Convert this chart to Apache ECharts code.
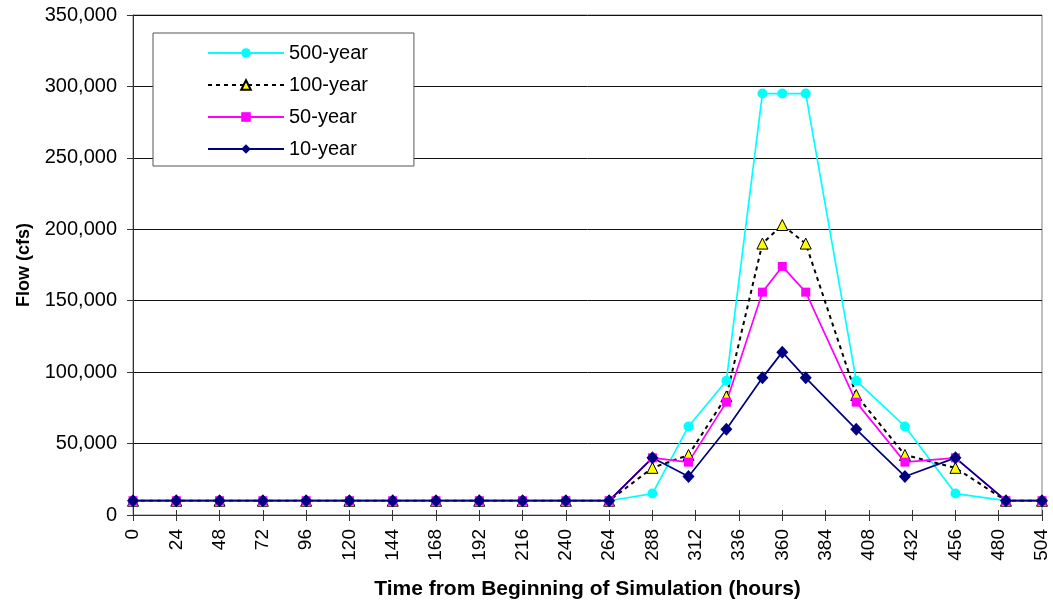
<!DOCTYPE html>
<html>
<head>
<meta charset="utf-8">
<script src="https://cdn.jsdelivr.net/npm/echarts@6/dist/echarts.min.js"></script>
<style>
html,body{margin:0;padding:0;background:#fff;}
#chart{width:1053px;height:605px;}
</style>
</head>
<body>
<div id="chart"></div>
<script>
// Time (hours) of each simulated point
const hours = [0, 24, 48, 72, 96, 120, 144, 168, 192, 216, 240, 264, 288, 308, 329, 349, 360, 373, 401, 428, 456, 484, 504];
// Flow (cfs)
const flow500 = [10000, 10000, 10000, 10000, 10000, 10000, 10000, 10000, 10000, 10000, 10000, 10000, 15000, 62000, 94000, 295000, 295000, 295000, 94000, 62000, 15000, 10000, 10000];
const flow100 = [10000, 10000, 10000, 10000, 10000, 10000, 10000, 10000, 10000, 10000, 10000, 10000, 33000, 42000, 83000, 190000, 203000, 190000, 84000, 42000, 33000, 10000, 10000];
const flow50  = [10000, 10000, 10000, 10000, 10000, 10000, 10000, 10000, 10000, 10000, 10000, 10000, 40000, 37000, 79000, 156000, 174000, 156000, 79000, 37000, 40000, 10000, 10000];
const flow10  = [10000, 10000, 10000, 10000, 10000, 10000, 10000, 10000, 10000, 10000, 10000, 10000, 40000, 27000, 60000, 96000, 114000, 96000, 60000, 27000, 40000, 10000, 10000];
const seriesNames = ['500-year', '100-year', '50-year', '10-year'];
const xTitle = 'Time from Beginning of Simulation (hours)';
const yTitle = 'Flow (cfs)';

function pairs(ys) { return hours.map((h, i) => [h, ys[i]]); }

const FONT = 'Liberation Sans, Arial, sans-serif';
const chart = echarts.init(document.getElementById('chart'), null, {renderer: 'canvas'});
chart.setOption({
  animation: false,
  backgroundColor: '#ffffff',
  grid: {left: 133, right: 11, top: 15, bottom: 90, show: true, borderColor: '#808080', borderWidth: 1, backgroundColor: 'transparent'},
  legend: {
    orient: 'vertical',
    left: 153, top: 33,
    padding: [10, 46, 7, 54],
    itemWidth: 76, itemHeight: 12, itemGap: 12,
    backgroundColor: '#ffffff',
    borderColor: '#555555', borderWidth: 1,
    textStyle: {fontFamily: FONT, fontSize: 20, color: '#000'},
    data: seriesNames
  },
  xAxis: [{
    type: 'value', min: 0, max: 504, interval: 24,
    position: 'bottom',
    name: xTitle, nameLocation: 'middle', nameGap: 64,
    nameTextStyle: {fontFamily: FONT, fontSize: 21, fontWeight: 'bold', color: '#000'},
    axisLine: {show: true, lineStyle: {color: '#333', width: 1}},
    axisTick: {show: true, inside: false, length: 6, lineStyle: {color: '#333'}},
    axisLabel: {rotate: 90, margin: 14, fontFamily: FONT, fontSize: 19, color: '#000'},
    splitLine: {show: false}
  }, {
    type: 'value', min: 0, max: 504, interval: 24,
    position: 'bottom',
    axisLine: {show: false},
    axisTick: {show: true, inside: true, length: 5, lineStyle: {color: '#333'}},
    axisLabel: {show: false},
    splitLine: {show: false}
  }],
  yAxis: {
    type: 'value', min: 0, max: 350000, interval: 50000,
    name: yTitle, nameLocation: 'middle', nameGap: 100, nameRotate: 90,
    nameTextStyle: {fontFamily: FONT, fontSize: 18, fontWeight: 'bold', color: '#000'},
    axisLine: {show: true, lineStyle: {color: '#333', width: 1}},
    axisTick: {show: true, inside: false, length: 6, lineStyle: {color: '#333'}},
    axisLabel: {margin: 16, fontFamily: FONT, fontSize: 20, color: '#000',
      formatter: v => v.toLocaleString('en-US')},
    splitLine: {show: true, lineStyle: {color: '#111', width: 1}}
  },
  series: [
    {name: seriesNames[0], type: 'line', data: pairs(flow500), symbol: 'circle', symbolSize: 10,
     lineStyle: {color: '#00FFFF', width: 1.7}, itemStyle: {color: '#00FFFF'}},
    {name: seriesNames[1], type: 'line', data: pairs(flow100), symbol: 'triangle', symbolSize: 11,
     lineStyle: {color: '#000000', width: 2, type: [4, 4]},
     itemStyle: {color: '#FFFF00', borderColor: '#000', borderWidth: 1}},
    {name: seriesNames[2], type: 'line', data: pairs(flow50), symbol: 'rect', symbolSize: 9,
     lineStyle: {color: '#FF00FF', width: 1.7}, itemStyle: {color: '#FF00FF'}},
    {name: seriesNames[3], type: 'line', data: pairs(flow10), symbol: 'diamond', symbolSize: [12, 13],
     lineStyle: {color: '#000080', width: 1.7}, itemStyle: {color: '#000080'}}
  ]
});
</script>
</body>
</html>
